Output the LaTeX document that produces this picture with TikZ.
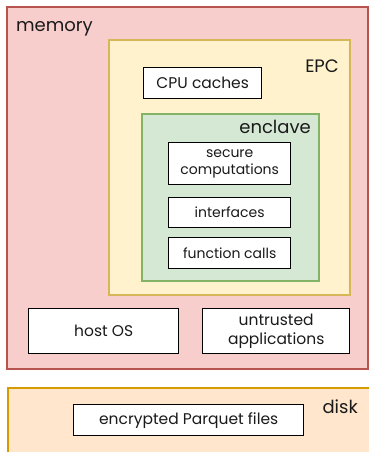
\documentclass[tikz,border=0pt]{standalone}
\usepackage{fontspec}
\setmainfont{Poppins}
\begin{document}
\begin{tikzpicture}[x=1pt,y=-1pt,
  region/.style={draw, line width=1.8pt, anchor=north west, inner sep=0pt},
  membox/.style={region, fill=memfill, draw=memline},
  epcbox/.style={region, fill=epcfill, draw=epcline},
  enclbox/.style={region, fill=enclfill, draw=enclline},
  diskbox/.style={region, fill=diskfill, draw=diskline},
  item/.style={draw=black, fill=white, line width=1.4pt, anchor=north west, inner sep=0pt,
    align=center, font=\fontsize{15.5}{19.5}\selectfont, text=txt},
  smallitem/.style={item, font=\fontsize{14}{17}\selectfont},
  title/.style={font=\fontsize{18}{22}\selectfont, text=txt, inner sep=0pt}
]
\definecolor{memfill}{HTML}{F8CECC}
\definecolor{memline}{HTML}{B85450}
\definecolor{epcfill}{HTML}{FFF2CC}
\definecolor{epcline}{HTML}{D6B656}
\definecolor{enclfill}{HTML}{D5E8D4}
\definecolor{enclline}{HTML}{82B366}
\definecolor{diskfill}{HTML}{FFE6CC}
\definecolor{diskline}{HTML}{D79B00}
\definecolor{txt}{HTML}{1A1A1A}

\useasboundingbox (0,0) rectangle (368,452);

% memory region with its nested EPC and enclave
\node[membox, minimum width=361pt, minimum height=362pt] (memory) at (6,6) {};
\node[title, anchor=base west] (memlabel) at (16,32) {memory};

\node[epcbox, minimum width=241pt, minimum height=255pt] (epc) at (108,39) {};
\node[title, anchor=base east] (epclabel) at (339,72) {EPC};

\node[item, minimum width=118pt, minimum height=31pt] (cpu) at (143,67) {CPU caches};

\node[enclbox, minimum width=177pt, minimum height=167pt] (enclave) at (141,113) {};
\node[title, anchor=base east] (encllabel) at (311,133) {enclave};

\node[smallitem, minimum width=122pt, minimum height=42pt] (secure) at (168,142) {secure\\computations};
\node[smallitem, minimum width=122pt, minimum height=30pt] (iface) at (168,197) {interfaces};
\node[smallitem, minimum width=122pt, minimum height=31pt] (fcalls) at (168,237) {function calls};

\node[item, minimum width=150pt, minimum height=45pt] (hostos) at (28,308) {host OS};
\node[item, minimum width=147pt, minimum height=45pt] (untrusted) at (202,308) {untrusted\\applications};

% disk region
\node[diskbox, minimum width=364pt, minimum height=66pt] (disk) at (7,387) {};
\node[title, anchor=base east] (disklabel) at (358,413) {disk};
\node[item, minimum width=230pt, minimum height=31pt] (parquet) at (73,404) {encrypted Parquet files};
\end{tikzpicture}
\end{document}
